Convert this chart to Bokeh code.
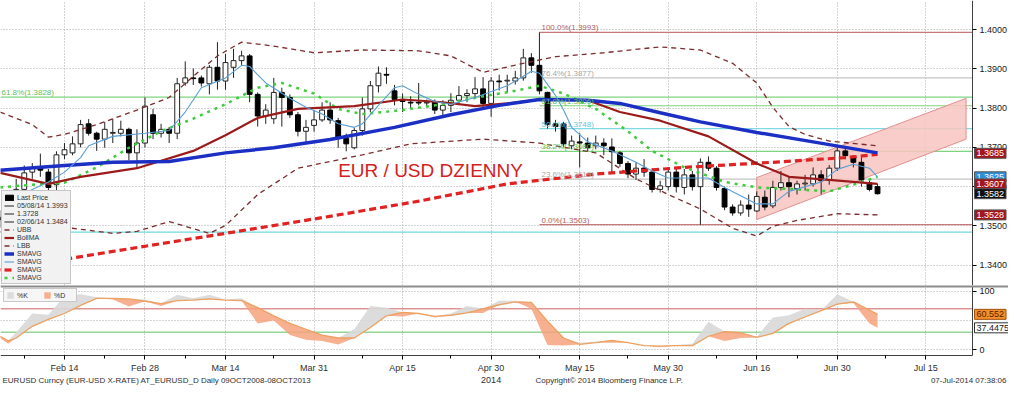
import numpy as np
import pandas as pd
from bokeh.plotting import figure
from bokeh.models import (ColumnDataSource, FixedTicker, Label, Legend, LegendItem, Span,
                          Range1d, NumeralTickFormatter, LinearAxis, BoxAnnotation)
from bokeh.layouts import column
from bokeh.embed import file_html
from bokeh.resources import INLINE

# ---------------- data ----------------
candle_dates = [d.strftime("%Y-%m-%d") for d in pd.bdate_range("2014-02-04", "2014-07-07")]
opens = [1.3522, 1.3515, 1.3535, 1.3593, 1.3637, 1.3647, 1.3637, 1.3605, 1.3681, 1.3686,
         1.3709, 1.3760, 1.3736, 1.3721, 1.3736, 1.3736, 1.3746, 1.3686, 1.3711, 1.3783,
         1.3736, 1.3746, 1.3736, 1.3864, 1.3877, 1.3877, 1.3862, 1.3904, 1.3869, 1.3904,
         1.3921, 1.3933, 1.3835, 1.3780, 1.3773, 1.3840, 1.3827, 1.3783, 1.3741, 1.3756,
         1.3770, 1.3795, 1.3768, 1.3723, 1.3699, 1.3743, 1.3798, 1.3857, 1.3886, 1.3844,
         1.3822, 1.3815, 1.3815, 1.3813, 1.3815, 1.3795, 1.3807, 1.3820, 1.3832, 1.3837,
         1.3849, 1.3812, 1.3869, 1.3869, 1.3869, 1.3877, 1.3928, 1.3909, 1.3840, 1.3760,
         1.3760, 1.3704, 1.3714, 1.3711, 1.3704, 1.3711, 1.3701, 1.3686, 1.3659, 1.3632,
         1.3647, 1.3637, 1.3593, 1.3600, 1.3637, 1.3598, 1.3630, 1.3600, 1.3662, 1.3647,
         1.3595, 1.3548, 1.3533, 1.3553, 1.3538, 1.3573, 1.3551, 1.3598, 1.3610, 1.3595,
         1.3607, 1.3607, 1.3630, 1.3617, 1.3647, 1.3691, 1.3677, 1.3662, 1.3610, 1.3600]
highs = [1.3540, 1.3545, 1.3620, 1.3654, 1.3660, 1.3684, 1.3645, 1.3690, 1.3711, 1.3728,
         1.3770, 1.3772, 1.3740, 1.3765, 1.3773, 1.3768, 1.3750, 1.3746, 1.3827, 1.3798,
         1.3760, 1.3752, 1.3877, 1.3919, 1.3901, 1.3883, 1.3910, 1.3968, 1.3938, 1.3951,
         1.3946, 1.3938, 1.3840, 1.3810, 1.3877, 1.3852, 1.3835, 1.3790, 1.3770, 1.3795,
         1.3815, 1.3815, 1.3775, 1.3735, 1.3750, 1.3827, 1.3869, 1.3906, 1.3904, 1.3859,
         1.3837, 1.3830, 1.3864, 1.3822, 1.3822, 1.3820, 1.3838, 1.3856, 1.3848, 1.3879,
         1.3879, 1.3879, 1.3885, 1.3885, 1.3895, 1.3951, 1.3940, 1.3993, 1.3842, 1.3770,
         1.3765, 1.3730, 1.3736, 1.3725, 1.3730, 1.3723, 1.3723, 1.3690, 1.3665, 1.3662,
         1.3670, 1.3647, 1.3615, 1.3650, 1.3650, 1.3645, 1.3640, 1.3672, 1.3677, 1.3652,
         1.3600, 1.3555, 1.3565, 1.3580, 1.3588, 1.3590, 1.3615, 1.3640, 1.3625, 1.3615,
         1.3630, 1.3649, 1.3642, 1.3655, 1.3704, 1.3701, 1.3680, 1.3675, 1.3617, 1.3607]
lows = [1.3495, 1.3490, 1.3484, 1.3565, 1.3620, 1.3625, 1.3580, 1.3588, 1.3670, 1.3680,
        1.3700, 1.3730, 1.3691, 1.3699, 1.3711, 1.3728, 1.3667, 1.3647, 1.3700, 1.3721,
        1.3725, 1.3711, 1.3721, 1.3857, 1.3859, 1.3855, 1.3835, 1.3847, 1.3847, 1.3877,
        1.3910, 1.3815, 1.3753, 1.3760, 1.3760, 1.3753, 1.3775, 1.3728, 1.3709, 1.3740,
        1.3765, 1.3760, 1.3699, 1.3690, 1.3695, 1.3730, 1.3790, 1.3840, 1.3862, 1.3807,
        1.3790, 1.3800, 1.3807, 1.3805, 1.3785, 1.3780, 1.3790, 1.3810, 1.3815, 1.3825,
        1.3802, 1.3778, 1.3845, 1.3840, 1.3860, 1.3870, 1.3890, 1.3835, 1.3748, 1.3740,
        1.3700, 1.3695, 1.3649, 1.3690, 1.3695, 1.3680, 1.3637, 1.3650, 1.3622, 1.3617,
        1.3625, 1.3585, 1.3585, 1.3590, 1.3585, 1.3580, 1.3590, 1.3503, 1.3640, 1.3590,
        1.3540, 1.3526, 1.3526, 1.3523, 1.3536, 1.3540, 1.3545, 1.3590, 1.3573, 1.3580,
        1.3590, 1.3600, 1.3580, 1.3605, 1.3640, 1.3670, 1.3649, 1.3600, 1.3588, 1.3580]
closes = [1.3515, 1.3530, 1.3593, 1.3635, 1.3647, 1.3642, 1.3598, 1.3681, 1.3694, 1.3709,
          1.3758, 1.3736, 1.3721, 1.3746, 1.3738, 1.3746, 1.3686, 1.3711, 1.3805, 1.3736,
          1.3746, 1.3736, 1.3862, 1.3877, 1.3875, 1.3864, 1.3904, 1.3869, 1.3916, 1.3921,
          1.3933, 1.3835, 1.3780, 1.3795, 1.3840, 1.3827, 1.3783, 1.3741, 1.3751, 1.3770,
          1.3795, 1.3770, 1.3723, 1.3709, 1.3743, 1.3798, 1.3857, 1.3889, 1.3884, 1.3822,
          1.3817, 1.3813, 1.3813, 1.3815, 1.3795, 1.3807, 1.3820, 1.3832, 1.3837, 1.3849,
          1.3812, 1.3869, 1.3867, 1.3871, 1.3877, 1.3928, 1.3909, 1.3844, 1.3758, 1.3753,
          1.3709, 1.3716, 1.3711, 1.3699, 1.3711, 1.3704, 1.3689, 1.3659, 1.3632, 1.3647,
          1.3637, 1.3593, 1.3602, 1.3637, 1.3600, 1.3630, 1.3600, 1.3662, 1.3647, 1.3598,
          1.3548, 1.3533, 1.3553, 1.3543, 1.3575, 1.3548, 1.3598, 1.3610, 1.3600, 1.3607,
          1.3609, 1.3630, 1.3615, 1.3647, 1.3691, 1.3679, 1.3662, 1.3617, 1.3593, 1.3582]

sma200_dates = ["2014-02-04", "2014-02-24", "2014-03-14", "2014-04-01", "2014-04-17", "2014-05-02",
                "2014-05-19", "2014-06-03", "2014-06-18", "2014-07-01", "2014-07-07"]
sma200_vals = [1.3388, 1.3435, 1.3481, 1.3521, 1.3563, 1.3607, 1.3632, 1.3649, 1.3662, 1.3674, 1.3682]

sma100_dates = ["2014-02-04", "2014-02-14", "2014-02-24", "2014-03-05", "2014-03-14", "2014-03-24",
                "2014-04-02", "2014-04-14", "2014-04-23", "2014-05-01", "2014-05-08", "2014-05-16",
                "2014-05-22", "2014-05-29", "2014-06-05", "2014-06-16", "2014-06-25", "2014-07-07"]
sma100_vals = [1.3642, 1.3654, 1.3662, 1.3664, 1.3686, 1.3699, 1.3720, 1.3751, 1.3783, 1.3807,
               1.3822, 1.3820, 1.3812, 1.3788, 1.3765, 1.3738, 1.3714, 1.3686]

bollma_dates = ["2014-02-04", "2014-02-12", "2014-02-18", "2014-02-27", "2014-03-10", "2014-03-14",
                "2014-03-20", "2014-03-27", "2014-04-07", "2014-04-15", "2014-04-22", "2014-04-28",
                "2014-05-02", "2014-05-08", "2014-05-16", "2014-05-22", "2014-05-29", "2014-06-06",
                "2014-06-16", "2014-06-20", "2014-06-27", "2014-07-07"]
bollma_vals = [1.3635, 1.3607, 1.3625, 1.3647, 1.3691, 1.3731, 1.3775, 1.3798, 1.3805, 1.3822,
               1.3815, 1.3805, 1.3812, 1.3822, 1.3820, 1.3790, 1.3768, 1.3728, 1.3659, 1.3625,
               1.3617, 1.3607]

ubb_dates = ["2014-02-04", "2014-02-10", "2014-02-12", "2014-02-14", "2014-02-20", "2014-02-27",
             "2014-03-05", "2014-03-10", "2014-03-13", "2014-03-18", "2014-03-24", "2014-03-31",
             "2014-04-08", "2014-04-17", "2014-04-23", "2014-04-29", "2014-05-06", "2014-05-12",
             "2014-05-20", "2014-05-29", "2014-06-05", "2014-06-11", "2014-06-16", "2014-06-18",
             "2014-06-20", "2014-06-24", "2014-06-27", "2014-07-07"]
ubb_vals = [1.3790, 1.3758, 1.3726, 1.3733, 1.3758, 1.3795, 1.3827, 1.3881, 1.3933, 1.3968,
            1.3958, 1.3941, 1.3948, 1.3946, 1.3933, 1.3891, 1.3914, 1.3931, 1.3941, 1.3956,
            1.3948, 1.3914, 1.3864, 1.3802, 1.3753, 1.3733, 1.3716, 1.3704]

lbb_dates = ["2014-02-04", "2014-02-11", "2014-02-17", "2014-02-24", "2014-02-27", "2014-03-05",
             "2014-03-12", "2014-03-14", "2014-03-20", "2014-03-25", "2014-03-27", "2014-04-02",
             "2014-04-08", "2014-04-16", "2014-04-29", "2014-05-08", "2014-05-19", "2014-05-26",
             "2014-05-30", "2014-06-05", "2014-06-11", "2014-06-16", "2014-06-18", "2014-06-23",
             "2014-06-30", "2014-07-07"]
lbb_vals = [1.3485, 1.3485, 1.3494, 1.3481, 1.3486, 1.3511, 1.3481, 1.3501, 1.3580, 1.3620,
            1.3647, 1.3664, 1.3681, 1.3709, 1.3721, 1.3711, 1.3686, 1.3620, 1.3580, 1.3543,
            1.3494, 1.3474, 1.3499, 1.3514, 1.3531, 1.3528]

sma10_dates = ["2014-02-04", "2014-02-10", "2014-02-14", "2014-02-20", "2014-02-26", "2014-03-04",
               "2014-03-10", "2014-03-14", "2014-03-20", "2014-03-25", "2014-03-31", "2014-04-03",
               "2014-04-08", "2014-04-15", "2014-04-22", "2014-04-29", "2014-05-05", "2014-05-08",
               "2014-05-13", "2014-05-19", "2014-05-23", "2014-05-28", "2014-06-03", "2014-06-10",
               "2014-06-16", "2014-06-23", "2014-06-27", "2014-07-02", "2014-07-07"]
sma10_vals = [1.3598, 1.3605, 1.3610, 1.3649, 1.3699, 1.3741, 1.3773, 1.3810, 1.3852, 1.3864,
              1.3837, 1.3798, 1.3785, 1.3795, 1.3810, 1.3830, 1.3844, 1.3857, 1.3837, 1.3798,
              1.3741, 1.3691, 1.3649, 1.3612, 1.3598, 1.3593, 1.3588, 1.3605, 1.3625]

sma5_dates = ["2014-02-07", "2014-02-12", "2014-02-14", "2014-02-18", "2014-02-19", "2014-02-24",
              "2014-02-28", "2014-03-05", "2014-03-07", "2014-03-11", "2014-03-14", "2014-03-18",
              "2014-03-19", "2014-03-21", "2014-03-26", "2014-03-28", "2014-04-01", "2014-04-03",
              "2014-04-07", "2014-04-08", "2014-04-10", "2014-04-14", "2014-04-15", "2014-04-17",
              "2014-04-21", "2014-04-23", "2014-04-28", "2014-05-02", "2014-05-06", "2014-05-07",
              "2014-05-08", "2014-05-12", "2014-05-13", "2014-05-14", "2014-05-16", "2014-05-21",
              "2014-05-26", "2014-05-28", "2014-05-30", "2014-06-06", "2014-06-10", "2014-06-16",
              "2014-06-18", "2014-06-20", "2014-06-26", "2014-06-30", "2014-07-02", "2014-07-04",
              "2014-07-07"]
sma5_vals = [1.3583, 1.3612, 1.3637, 1.3674, 1.3704, 1.3728, 1.3736, 1.3743, 1.3790, 1.3852,
             1.3877, 1.3909, 1.3906, 1.3864, 1.3825, 1.3802, 1.3785, 1.3760, 1.3751, 1.3760,
             1.3807, 1.3852, 1.3857, 1.3835, 1.3817, 1.3810, 1.3827, 1.3857, 1.3881, 1.3894,
             1.3889, 1.3832, 1.3795, 1.3751, 1.3714, 1.3691, 1.3662, 1.3640, 1.3622, 1.3622,
             1.3598, 1.3556, 1.3556, 1.3588, 1.3612, 1.3644, 1.3657, 1.3647, 1.3625]

# Fibonacci retracement (1.3993 -> 1.3503), drawn from 8 May
fib_start = "2014-05-08"
fib_levels = [1.3993, 1.3877, 1.3806, 1.3748, 1.3690, 1.3619, 1.3503]
fib_texts = ["100.0%(1.3993)", "76.4%(1.3877)", "61.8%(1.3806)", "50.0%(1.3748)",
             "38.2%(1.3690)", "23.6%(1.3619)", "0.0%(1.3503)"]
fib_colors = ["#c87878", "#c4c4c4", "#7fd47f", "#7fd9e3", "#7fd47f", "#c4c4c4", "#c87878"]
fib_text_colors = ["#b06060", "#a8a8a8", "#60c060", "#60c8d8", "#60c060", "#a8a8a8", "#b06060"]

full_lines = [1.3828, 1.3484]
full_line_colors = ["#7fd47f", "#6fd8e0"]

# Trend channel
channel_dates = ["2014-06-16", "2014-07-22"]
channel_upper = [1.3623, 1.3825]
channel_lower = [1.3516, 1.3721]

# Price tags on the right
tag_values = [1.3685, 1.3625, 1.3607, 1.3582, 1.3528]
tag_colors = ["#a3161c", "#2f8fd8", "#a3161c", "#111111", "#a3161c"]

# Stochastic
stoch_dates = ["2014-02-04", "2014-02-05", "2014-02-06", "2014-02-10", "2014-02-12", "2014-02-14",
               "2014-02-18", "2014-02-20", "2014-02-24", "2014-02-26", "2014-02-28", "2014-03-04",
               "2014-03-06", "2014-03-10", "2014-03-12", "2014-03-14", "2014-03-18", "2014-03-20",
               "2014-03-24", "2014-03-26", "2014-03-28", "2014-04-01", "2014-04-03", "2014-04-07",
               "2014-04-09", "2014-04-11", "2014-04-15", "2014-04-17", "2014-04-21", "2014-04-23",
               "2014-04-25", "2014-04-29", "2014-05-01", "2014-05-05", "2014-05-07", "2014-05-09",
               "2014-05-13", "2014-05-15", "2014-05-19", "2014-05-21", "2014-05-23", "2014-05-27",
               "2014-05-29", "2014-06-02", "2014-06-04", "2014-06-06", "2014-06-10", "2014-06-12",
               "2014-06-16", "2014-06-18", "2014-06-20", "2014-06-24", "2014-06-26", "2014-06-30",
               "2014-07-02", "2014-07-04", "2014-07-07"]
stoch_d = [23, 15, 20, 40, 52, 62, 76, 88, 88, 87, 83, 79, 84, 85, 87, 85, 84, 72, 58, 45,
           35, 25, 20, 20, 38, 58, 64, 62, 57, 59, 63, 70, 77, 82, 81, 49, 20, 9, 12, 16,
           12, 7, 6, 7, 7, 23, 31, 29, 21, 28, 45, 56, 67, 78, 82, 68, 60.552]
stoch_k = [20, 10, 30, 62, 60, 92, 95, 90, 86, 74, 86, 75, 94, 88, 94, 86, 88, 45, 50, 25,
           17, 15, 9, 35, 75, 72, 57, 62, 55, 62, 75, 63, 84, 84, 70, 8, 7, 12, 14, 12,
           12, 7, 4, 8, 10, 48, 15, 20, 22, 55, 59, 70, 67, 95, 80, 45, 37.4475]

tick_dates = ["2014-02-14", "2014-02-28", "2014-03-14", "2014-03-31", "2014-04-15", "2014-04-30",
              "2014-05-15", "2014-05-30", "2014-06-16", "2014-06-30", "2014-07-15"]
tick_labels = ["Feb 14", "Feb 28", "Mar 14", "Mar 31", "Apr 15", "Apr 30\n2014",
               "May 15", "May 30", "Jun 16", "Jun 30", "Jul 15"]
minor_dates = ["2014-02-07", "2014-02-21", "2014-03-07", "2014-03-24", "2014-04-08", "2014-04-23",
               "2014-05-08", "2014-05-23", "2014-06-09", "2014-06-23", "2014-07-08"]
price_ticks = [1.34, 1.35, 1.36, 1.37, 1.38, 1.39, 1.40]

# ---------------- helpers ----------------
all_days = pd.bdate_range("2014-02-03", "2014-08-29")
pos = {d.strftime("%Y-%m-%d"): i for i, d in enumerate(all_days)}
def X(ds):
    return [pos[d] for d in ds]

W = 1008
AXIS_PX = 972                      # pixel position of the price axis
X_START, X_END = 1.05, 121.8       # plotted date range (business-day index)
X_FULL = X_START + (X_END - X_START) * W / AXIS_PX
FONT = "Liberation Sans"
GRID = "#a8a8a8"

# ---------------- main price panel ----------------
p1 = figure(width=W, height=285, x_range=Range1d(X_START, X_FULL),
            y_range=Range1d(1.33482, 1.40741), output_backend="svg", toolbar_location=None,
            x_axis_location=None, y_axis_location=None, min_border=0,
            min_border_left=0, min_border_top=0, min_border_bottom=0, min_border_right=0,
            background_fill_color="white", border_fill_color="white", outline_line_color=None)

yax = LinearAxis(fixed_location=X_END, ticker=FixedTicker(ticks=price_ticks),
                 formatter=NumeralTickFormatter(format="0.0000"),
                 major_label_text_font_size="9px", major_label_text_font=FONT,
                 major_label_text_color="#202020", axis_line_color="#404040",
                 major_tick_out=4, major_tick_in=0, minor_tick_line_color=None,
                 major_label_standoff=3)
p1.add_layout(yax, "right")

p1.ygrid.ticker = FixedTicker(ticks=price_ticks)
p1.ygrid.grid_line_color = GRID
p1.ygrid.grid_line_dash = "1 2"
p1.xgrid.ticker = FixedTicker(ticks=X(tick_dates))
p1.xgrid.grid_line_color = GRID
p1.xgrid.grid_line_dash = "1 2"
p1.add_layout(BoxAnnotation(left=X_END, fill_color="white", fill_alpha=1, line_color=None,
                            level="underlay"))

# full-width lines
p1.segment(x0=[X_START] * len(full_lines), y0=full_lines, x1=[X_END] * len(full_lines),
           y1=full_lines, line_color=full_line_colors, line_width=1.2)
p1.add_layout(Label(x=X_START, y=full_lines[0], x_offset=1, text="61.8%(1.3828)", text_font=FONT,
                    text_font_size="8px", text_color="#60c060", text_baseline="bottom"))

# fib lines
fx0 = pos[fib_start]
p1.segment(x0=[fx0] * len(fib_levels), y0=fib_levels, x1=[X_END] * len(fib_levels), y1=fib_levels,
           line_color=fib_colors, line_width=1.2)
for lvl, txt, col in zip(fib_levels, fib_texts, fib_text_colors):
    p1.add_layout(Label(x=fx0, y=lvl, x_offset=2, y_offset=0, text=txt, text_font=FONT,
                        text_font_size="8px", text_color=col, text_baseline="bottom"))

# channel
cx = X(channel_dates)
p1.patch(x=[cx[0], cx[1], cx[1], cx[0]],
         y=[channel_upper[0], channel_upper[1], channel_lower[1], channel_lower[0]],
         fill_color="#f8c4c0", fill_alpha=0.85, line_color="#e09090", line_width=1)

# candles
cxs = X(candle_dates)
src_all = ColumnDataSource(dict(x=cxs, high=highs, low=lows))
up = [i for i in range(len(opens)) if closes[i] >= opens[i]]
dn = [i for i in range(len(opens)) if closes[i] < opens[i]]
src_up = ColumnDataSource(dict(x=[cxs[i] for i in up], top=[closes[i] for i in up],
                               bottom=[opens[i] for i in up]))
src_dn = ColumnDataSource(dict(x=[cxs[i] for i in dn], top=[opens[i] for i in dn],
                               bottom=[closes[i] for i in dn]))
r_wick = p1.segment(x0="x", y0="low", x1="x", y1="high", source=src_all, line_color="#222222",
                    line_width=1)
r_up = p1.vbar(x="x", width=0.6, top="top", bottom="bottom", source=src_up, fill_color="white",
               line_color="#222222", line_width=1)
r_dn = p1.vbar(x="x", width=0.6, top="top", bottom="bottom", source=src_dn, fill_color="black",
               line_color="black", line_width=1)

# overlays
r_ubb = p1.line(X(ubb_dates), ubb_vals, line_color="#7b2c2c", line_width=1.3, line_dash="5 4")
r_lbb = p1.line(X(lbb_dates), lbb_vals, line_color="#7b2c2c", line_width=1.3, line_dash="5 4")
r_200 = p1.line(X(sma200_dates), sma200_vals, line_color="#e02222", line_width=3.2, line_dash="7 4")
r_10 = p1.line(X(sma10_dates), sma10_vals, line_color="#3ccc3c", line_width=2.5, line_dash="3 5")
r_bma = p1.line(X(bollma_dates), bollma_vals, line_color="#9b1b1b", line_width=2.2)
r_100 = p1.line(X(sma100_dates), sma100_vals, line_color="#1c2fc4", line_width=3.5)
r_5 = p1.line(X(sma5_dates), sma5_vals, line_color="#5a9fd4", line_width=1.1)

# title text
p1.add_layout(Label(x=pos["2014-04-03"], y=1.3642, text="EUR / USD DZIENNY",
                    text_font=FONT, text_font_size="19px",
                    text_color="#d42020", text_baseline="middle"))

# price tags
for v, c in zip(tag_values, tag_colors):
    p1.add_layout(Label(x=X_END, y=v, x_offset=2, text=f"{v:.4f}", text_font=FONT,
                        text_font_size="9px", text_color="white", text_baseline="middle",
                        background_fill_color=c, border_line_color="#555555", padding=2))

legend1 = Legend(items=[
    LegendItem(label="Last Price", renderers=[r_dn]),
    LegendItem(label="05/08/14 1.3993", renderers=[r_wick]),
    LegendItem(label="1.3728", renderers=[r_wick]),
    LegendItem(label="02/06/14 1.3484", renderers=[r_wick]),
    LegendItem(label="UBB", renderers=[r_ubb]),
    LegendItem(label="BollMA", renderers=[r_bma]),
    LegendItem(label="LBB", renderers=[r_lbb]),
    LegendItem(label="SMAVG", renderers=[r_100]),
    LegendItem(label="SMAVG", renderers=[r_5]),
    LegendItem(label="SMAVG", renderers=[r_200]),
    LegendItem(label="SMAVG", renderers=[r_10]),
], location="bottom_left", margin=1, padding=2, spacing=0, label_height=8, glyph_height=7,
   glyph_width=10, label_standoff=3, label_text_font_size="7px", label_text_font=FONT,
   label_text_color="#333333", background_fill_color="#f2f2f2", background_fill_alpha=1,
   border_line_color="#9a9a9a")
p1.add_layout(legend1)

# ---------------- stochastic panel ----------------
S_TOP, S_BOT = 110, -10
S_FRAME_PX = 70
H2 = 100
S_LOW = S_TOP - (S_TOP - S_BOT) * H2 / S_FRAME_PX

p2 = figure(width=W, height=H2, x_range=Range1d(X_START, X_FULL), y_range=Range1d(S_LOW, S_TOP),
            output_backend="svg", toolbar_location=None,
            x_axis_location=None, y_axis_location=None, min_border=0,
            min_border_left=0, min_border_top=0, min_border_bottom=0, min_border_right=0,
            background_fill_color="white", border_fill_color="white", outline_line_color=None)

p2.ygrid.ticker = FixedTicker(ticks=[0, 50, 100])
p2.ygrid.grid_line_color = GRID
p2.ygrid.grid_line_dash = "1 2"
p2.xgrid.ticker = FixedTicker(ticks=X(tick_dates))
p2.xgrid.grid_line_color = GRID
p2.xgrid.grid_line_dash = "1 2"
p2.add_layout(BoxAnnotation(left=X_END, fill_color="white", fill_alpha=1, line_color=None,
                            level="underlay"))
p2.add_layout(BoxAnnotation(top=S_BOT, fill_color="white", fill_alpha=1, line_color=None,
                            level="underlay"))

tp = X(tick_dates)
xax = LinearAxis(fixed_location=S_BOT, bounds=(X_START, X_END),
                 ticker=FixedTicker(ticks=tp, minor_ticks=X(minor_dates)),
                 major_label_overrides={t: l for t, l in zip(tp, tick_labels)},
                 major_label_text_font_size="9px", major_label_text_font=FONT,
                 major_label_text_color="#303030", axis_line_color="#404040",
                 major_tick_out=4, major_tick_in=0, minor_tick_out=3, minor_tick_in=0,
                 major_label_standoff=3)
p2.add_layout(xax, "below")
y2ax = LinearAxis(fixed_location=X_END, bounds=(S_BOT, S_TOP), ticker=FixedTicker(ticks=[0, 100]),
                  major_label_text_font_size="9px", major_label_text_font=FONT,
                  major_label_text_color="#202020", axis_line_color="#404040",
                  major_tick_out=4, major_tick_in=0, minor_tick_line_color=None,
                  major_label_standoff=3)
p2.add_layout(y2ax, "right")

# panel separator
p2.add_layout(Span(location=S_TOP, dimension="width", line_color="#8c8c8c", line_width=4))

stoch_bands = [70, 30]
p2.segment(x0=[X_START] * 2, y0=stoch_bands, x1=[X_END] * 2, y1=stoch_bands,
           line_color=["#d06060", "#60c060"], line_width=1)

sx = X(stoch_dates)
K = np.array(stoch_k, dtype=float)
D = np.array(stoch_d, dtype=float)
r_k = p2.varea(x=sx, y1=D, y2=np.maximum(K, D), fill_color="#d8d8d8", fill_alpha=0.9)
r_dfill = p2.varea(x=sx, y1=np.minimum(K, D), y2=D, fill_color="#f6a27c", fill_alpha=0.85)
r_dline = p2.line(sx, stoch_d, line_color="#eea060", line_width=1.3)

p2.add_layout(Label(x=X_END, y=stoch_d[-1], x_offset=2, text="60.552", text_font=FONT,
                    text_font_size="9px", text_color="#5a1a00", text_baseline="middle",
                    background_fill_color="#f39028", border_line_color="#a05010", padding=2))
p2.add_layout(Label(x=X_END, y=stoch_k[-1], x_offset=2, text="37.4475", text_font=FONT,
                    text_font_size="9px", text_color="#202020", text_baseline="middle",
                    background_fill_color="white", border_line_color="#333333", padding=2))

legend2 = Legend(items=[LegendItem(label="%K", renderers=[r_k]),
                        LegendItem(label="%D", renderers=[r_dfill])],
                 location="top_left", orientation="horizontal", margin=3, padding=2, spacing=6,
                 label_height=8, glyph_height=8, glyph_width=8, label_standoff=3,
                 label_text_font_size="7px", label_text_font=FONT, label_text_color="#333333",
                 background_fill_color="#f6f6f6", border_line_color="#9a9a9a")
p2.add_layout(legend2)

# footer
FOOT_Y = S_LOW + 5 * (S_TOP - S_LOW) / H2
footer_texts = ["EURUSD Curncy (EUR-USD X-RATE) AT_EURUSD_D  Daily 09OCT2008-08OCT2013",
                "Copyright\u00a9 2014 Bloomberg Finance L.P.",
                "07-Jul-2014 07:38:06"]
footer_x = [2, 535, W - 2]
footer_align = ["left", "left", "right"]
for t, fx, al in zip(footer_texts, footer_x, footer_align):
    p2.add_layout(Label(x=fx, y=FOOT_Y, x_units="screen", text=t, text_align=al,
                        text_font=FONT, text_font_size="8px", text_color="#303030",
                        text_baseline="middle"))

layout = column(p1, p2, spacing=0)
open("out.html", "w").write(file_html(layout, INLINE))
